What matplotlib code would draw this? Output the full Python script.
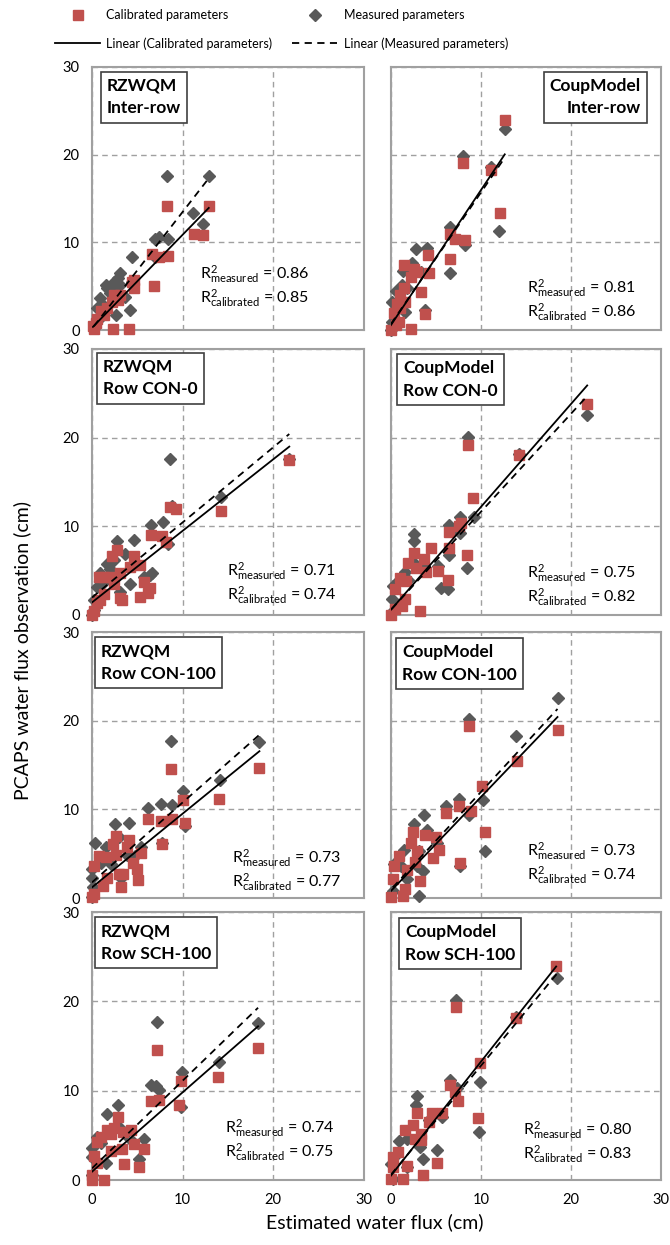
import numpy as np
import matplotlib.pyplot as plt
from matplotlib.lines import Line2D
from matplotlib.transforms import offset_copy

plt.rcParams['font.family'] = ['Lato', 'DejaVu Sans']
plt.rcParams['mathtext.fontset'] = 'custom'
plt.rcParams['mathtext.rm'] = 'Lato'
plt.rcParams['mathtext.it'] = 'Lato:italic'
plt.rcParams['mathtext.bf'] = 'Lato:bold'

RED = '#c0504d'
GREY = '#595959'

rz_inter_meas = [(8.27, 17.6), (12.9, 17.6), (11.2, 13.3), (12.3, 12.1), (7.0, 10.4), (7.35, 10.6),
                 (8.45, 10.4), (7.0, 8.35), (4.4, 8.35), (3.1, 6.45), (2.9, 5.9), (2.4, 5.5),
                 (1.5, 5.1), (1.65, 4.75), (2.0, 4.2), (3.7, 3.8), (0.9, 3.6), (1.1, 3.0),
                 (0.55, 2.5), (2.6, 1.7), (4.2, 2.3), (0.2, 0.2), (0.4, 0.75), (0.75, 1.3),
                 (1.3, 2.1), (2.2, 4.75), (3.1, 5.1), (4.4, 5.5)]
rz_inter_cal = [(12.9, 14.15), (8.27, 14.15), (11.3, 10.9), (12.3, 10.8), (8.45, 8.4), (7.35, 8.35),
                (6.6, 8.7), (6.9, 5.0), (4.4, 5.5), (4.6, 4.75), (3.1, 4.0), (2.9, 3.4),
                (2.2, 3.2), (1.65, 2.5), (1.3, 1.7), (0.55, 1.3), (0.4, 0.75), (0.2, 0.1),
                (2.35, 0.15), (4.1, 0.15), (2.4, 4.0), (4.6, 5.7), (1.0, 2.2), (0.1, 0.5)]

cm_inter_meas = [(12.64, 22.9), (8.03, 19.9), (11.1, 18.6), (12.0, 11.3), (6.6, 11.8), (8.2, 9.7),
                 (4.0, 9.4), (2.8, 9.2), (6.6, 6.45), (2.34, 7.6), (1.34, 6.7), (1.2, 5.1),
                 (0.5, 4.4), (0.1, 3.2), (1.6, 2.1), (3.8, 2.3), (0.1, 0.95), (0.0, 0.0),
                 (0.86, 3.2), (1.8, 4.75), (3.3, 6.6)]
cm_inter_cal = [(12.64, 23.9), (8.03, 19.05), (11.1, 18.2), (12.1, 13.3), (6.6, 10.9), (7.1, 10.4),
                (8.2, 10.25), (4.1, 8.5), (6.6, 8.1), (1.4, 7.4), (2.5, 7.0), (2.9, 6.6),
                (4.2, 6.45), (2.2, 6.1), (1.4, 4.75), (1.0, 4.0), (3.3, 4.3), (0.7, 3.0),
                (1.6, 3.2), (0.3, 1.9), (3.8, 1.8), (0.86, 0.95), (2.2, 0.1), (0.0, 0.0),
                (0.5, 0.6), (1.0, 2.5)]

rz_con0_meas = [(8.6, 17.6), (14.2, 13.3), (8.8, 12.3), (6.5, 10.1), (7.8, 10.45), (8.4, 8.0),
                (4.66, 8.5), (2.8, 8.4), (3.7, 6.9), (1.65, 5.8), (2.4, 6.2), (0.9, 4.7),
                (6.4, 4.5), (5.7, 4.3), (4.2, 3.5), (3.1, 2.6), (0.55, 3.2), (0.2, 1.7),
                (0.2, 0.56), (0.0, 0.0), (1.3, 3.7), (6.6, 4.7), (2.0, 5.2), (21.8, 17.6)]
rz_con0_cal = [(21.8, 17.5), (14.2, 11.7), (8.6, 12.2), (9.25, 11.9), (6.5, 9.0), (7.7, 8.95),
               (8.2, 8.2), (2.8, 7.35), (2.2, 6.6), (4.6, 6.7), (4.2, 5.4), (5.3, 5.6),
               (3.1, 4.7), (0.73, 4.3), (1.3, 4.3), (2.4, 3.5), (5.7, 3.7), (6.4, 3.0),
               (6.2, 2.5), (5.3, 2.0), (3.1, 1.9), (3.3, 1.7), (1.3, 2.4), (0.55, 1.3),
               (0.2, 0.4), (0.0, 0.0), (0.9, 1.7), (2.0, 4.3)]

cm_con0_meas = [(21.8, 22.6), (8.5, 20.1), (14.2, 18.2), (9.25, 11.0), (7.7, 11.1), (6.4, 10.2),
                (7.7, 9.25), (2.5, 9.1), (2.6, 8.3), (6.4, 6.8), (8.4, 5.3), (5.2, 5.5),
                (3.7, 5.5), (1.5, 4.8), (5.6, 3.1), (6.3, 2.9), (0.8, 3.8), (0.26, 3.3),
                (0.07, 1.8), (0.07, 0.3), (1.9, 4.0), (2.6, 5.9)]
cm_con0_cal = [(21.8, 23.8), (8.5, 19.2), (14.2, 18.1), (9.1, 13.2), (7.8, 10.4), (6.4, 9.4),
               (7.6, 10.0), (8.4, 6.8), (2.6, 7.0), (4.4, 7.5), (3.7, 6.3), (6.4, 7.5),
               (1.9, 5.9), (2.8, 5.3), (5.2, 5.0), (6.3, 4.0), (1.0, 4.2), (1.7, 3.8),
               (0.44, 2.9), (1.5, 1.8), (3.2, 0.5), (0.44, 0.67), (0.0, 0.0), (1.2, 1.0),
               (3.9, 4.8)]

rz_con100_meas = [(8.74, 17.7), (18.5, 17.55), (14.1, 13.3), (10.1, 12.1), (7.6, 10.6), (8.85, 10.5),
                  (6.2, 10.2), (10.3, 8.1), (2.5, 8.4), (4.1, 8.5), (3.0, 6.9), (7.75, 6.25),
                  (0.37, 6.25), (1.5, 5.7), (5.4, 5.7), (4.8, 4.75), (1.0, 4.0), (0.0, 3.25),
                  (0.0, 2.3), (3.2, 2.3), (0.1, 1.2), (0.0, 0.15), (2.1, 3.8), (3.9, 4.9)]
rz_con100_cal = [(18.5, 14.7), (8.7, 14.5), (10.1, 11.0), (14.0, 11.2), (10.3, 8.5), (6.2, 8.9),
                 (7.6, 8.7), (8.85, 8.9), (7.75, 6.05), (2.6, 7.0), (2.3, 6.05), (4.1, 6.5),
                 (3.9, 5.7), (5.4, 5.1), (0.8, 4.75), (1.5, 4.6), (2.6, 4.9), (4.5, 4.0),
                 (5.0, 3.25), (0.26, 3.6), (3.0, 2.7), (3.4, 2.7), (1.7, 2.3), (5.1, 2.0),
                 (3.25, 1.2), (1.2, 1.4), (0.0, 0.15), (0.2, 0.45)]

cm_con100_meas = [(18.5, 22.6), (8.65, 20.2), (13.9, 18.3), (10.2, 11.0), (7.6, 11.2), (6.1, 10.4),
                  (8.7, 9.4), (3.7, 9.4), (2.5, 8.4), (4.0, 7.7), (10.4, 5.3), (5.1, 6.2),
                  (1.45, 5.4), (3.1, 5.25), (7.7, 3.6), (3.6, 3.0), (0.36, 3.8), (1.8, 2.1),
                  (0.2, 0.8), (3.1, 0.2), (1.1, 3.6), (2.9, 3.6)]
cm_con100_cal = [(18.5, 18.9), (8.65, 19.4), (14.0, 15.5), (10.1, 12.6), (10.4, 7.4), (7.6, 10.4),
                 (8.9, 9.85), (6.1, 9.6), (2.4, 7.5), (3.8, 7.1), (5.0, 6.9), (2.2, 6.2),
                 (2.9, 5.25), (5.3, 5.45), (4.7, 4.5), (0.9, 4.7), (0.36, 3.6), (7.7, 4.0),
                 (1.8, 3.2), (0.2, 2.1), (3.2, 1.9), (1.6, 0.97), (0.0, 0.15), (1.3, 0.2),
                 (2.7, 4.1)]

rz_sch100_meas = [(7.2, 17.7), (18.35, 17.55), (14.0, 13.2), (9.9, 12.1), (6.5, 10.6), (7.1, 10.5),
                  (7.4, 10.1), (9.8, 8.2), (2.9, 8.4), (1.7, 7.35), (5.7, 4.55), (3.7, 5.2),
                  (0.6, 4.85), (4.5, 4.3), (5.2, 2.3), (0.0, 3.55), (0.0, 2.6), (1.5, 1.9),
                  (0.0, 0.56), (1.0, 4.1), (3.0, 5.9)]
rz_sch100_cal = [(18.35, 14.8), (7.2, 14.6), (13.9, 11.5), (9.85, 11.1), (9.6, 8.4), (6.5, 8.8),
                 (7.4, 9.0), (2.9, 7.0), (2.45, 5.85), (1.7, 5.6), (3.4, 5.4), (4.3, 5.6),
                 (1.0, 4.85), (0.6, 4.3), (4.6, 4.0), (3.3, 3.45), (5.7, 3.45), (2.1, 3.2),
                 (0.26, 2.7), (0.6, 1.9), (3.5, 1.8), (5.2, 1.5), (1.35, 0.0), (0.0, 0.0),
                 (0.0, 0.56), (2.1, 5.2)]

cm_sch100_meas = [(18.4, 22.6), (7.2, 20.1), (13.9, 18.2), (9.85, 11.0), (6.5, 11.2), (7.3, 10.3),
                  (2.85, 9.35), (2.75, 8.4), (9.8, 5.4), (5.65, 7.1), (4.2, 6.7), (1.8, 4.6),
                  (0.9, 4.4), (3.2, 3.7), (5.1, 3.4), (3.6, 2.4), (0.0, 1.8), (1.8, 1.4),
                  (0.2, 0.1), (0.36, 2.6)]
cm_sch100_cal = [(18.35, 23.9), (7.2, 19.4), (13.9, 18.1), (9.85, 13.1), (9.7, 6.9), (6.5, 10.6),
                 (7.1, 9.8), (7.4, 8.8), (2.85, 7.5), (4.6, 7.55), (5.65, 7.55), (4.2, 6.5),
                 (2.4, 6.15), (1.6, 5.6), (3.3, 5.2), (2.7, 4.6), (0.73, 3.1), (5.1, 1.9),
                 (1.8, 1.6), (3.6, 0.57), (0.2, 1.4), (0.0, 0.1), (1.3, 0.1), (0.2, 2.6),
                 (3.3, 4.5)]

panel_titles = ['RZWQM\nInter-row', 'CoupModel\nInter-row',
                'RZWQM\nRow CON-0', 'CoupModel\nRow CON-0',
                'RZWQM\nRow CON-100', 'CoupModel\nRow CON-100',
                'RZWQM\nRow SCH-100', 'CoupModel\nRow SCH-100']
r2_measured = ['0.86', '0.81', '0.71', '0.75', '0.73', '0.73', '0.74', '0.80']
r2_calibrated = ['0.85', '0.86', '0.74', '0.82', '0.77', '0.74', '0.75', '0.83']
# linear trend lines (slope, intercept)
trend_cal = [(1.06, 0.25), (1.54, 0.57), (0.806, 1.42), (1.16, 0.6),
             (0.83, 1.2), (1.06, 0.8), (0.887, 0.93), (1.275, 0.5)]
trend_meas = [(1.33, 0.15), (1.50, 0.7), (0.846, 1.97), (1.105, 0.6),
              (0.90, 1.76), (1.10, 0.97), (0.98, 1.3), (1.22, 0.6)]
ticks = [0, 10, 20, 30]

measured_sets = [rz_inter_meas, cm_inter_meas, rz_con0_meas, cm_con0_meas,
                 rz_con100_meas, cm_con100_meas, rz_sch100_meas, cm_sch100_meas]
calibrated_sets = [rz_inter_cal, cm_inter_cal, rz_con0_cal, cm_con0_cal,
                   rz_con100_cal, cm_con100_cal, rz_sch100_cal, cm_sch100_cal]

# layout (pixels)
W, H = 670, 1245
col_left = [92, 391]
col_width = [271.5, 270]
row_top = [67, 349, 632, 912]
row_bot = [330, 615, 898, 1180]
# title box corner (axes fraction) and R2 text anchor
box_pos = [(0.033, 0.981, 'left'), (0.948, 0.981, 'right'),
           (0.018, 0.985, 'left'), (0.022, 0.98, 'left'),
           (0.011, 0.98, 'left'), (0.019, 0.977, 'left'),
           (0.011, 0.98, 'left'), (0.03, 0.977, 'left')]
r2_pos = [(0.398, 0.167), (0.504, 0.114), (0.497, 0.12), (0.504, 0.113),
          (0.516, 0.105), (0.504, 0.13), (0.49, 0.149), (0.489, 0.142)]

fig = plt.figure(figsize=(W / 100, H / 100), dpi=100)

for i in range(8):
    r, c = divmod(i, 2)
    ax = fig.add_axes([col_left[c] / W, 1 - row_bot[r] / H,
                       col_width[c] / W, (row_bot[r] - row_top[r]) / H])
    ax.set_xlim(0, 30)
    ax.set_ylim(0, 30)
    ax.set_xticks(ticks)
    ax.set_yticks(ticks)
    ax.grid(True, color='#a0a0a0', lw=1.0, ls=(0, (4, 3)))
    ax.set_axisbelow(True)
    for s in ax.spines.values():
        s.set_color('#a0a0a0')
        s.set_linewidth(1.5)
    ax.tick_params(length=0, labelsize=10.5, pad=9,
                   labelleft=(c == 0), labelbottom=(r == 3))

    m = np.array(measured_sets[i])
    k = np.array(calibrated_sets[i])
    ax.plot(m[:, 0], m[:, 1], 'D', ms=6, color=GREY, mec=GREY, clip_on=False, zorder=3)
    ax.plot(k[:, 0], k[:, 1], 's', ms=6.5, color=RED, mec=RED, clip_on=False, zorder=4)

    xs = np.array([k[:, 0].min(), k[:, 0].max()])
    sl, b = trend_cal[i]
    ax.plot(xs, sl * xs + b, color='black', lw=1.3, zorder=5)
    xs = np.array([m[:, 0].min(), m[:, 0].max()])
    sl, b = trend_meas[i]
    ax.plot(xs, sl * xs + b, color='black', lw=1.3, ls=(0, (4, 3)), zorder=5)

    bx, by, ha = box_pos[i]
    dx = 6 if ha == 'left' else -6
    tr = offset_copy(ax.transAxes, fig=fig, x=dx, y=-6, units='dots')
    ax.text(bx, by, panel_titles[i], transform=tr, ha=ha, va='top',
            fontsize=12.5, fontweight='bold', linespacing=1.5, zorder=6,
            bbox=dict(boxstyle='square,pad=0.35', fc='white', ec='#404040', lw=1.2))

    rx, ry = r2_pos[i]
    ax.text(rx, ry + 0.045, r'$\mathrm{R}^{2}_{\mathrm{measured}}$ = ' + r2_measured[i],
            transform=ax.transAxes, ha='left', va='center', fontsize=11.5, zorder=6)
    ax.text(rx, ry - 0.045, r'$\mathrm{R}^{2}_{\mathrm{calibrated}}$ = ' + r2_calibrated[i],
            transform=ax.transAxes, ha='left', va='center', fontsize=11.5, zorder=6)

fig.text(22 / W, 1 - 650 / H, 'PCAPS water flux observation (cm)', rotation=90,
         ha='center', va='center', fontsize=14)
fig.text(375 / W, 1 - 1222 / H, 'Estimated water flux (cm)',
         ha='center', va='center', fontsize=14)

handles = [Line2D([], [], ls='none', marker='s', ms=6.5, color=RED),
           Line2D([], [], color='black', lw=1.3),
           Line2D([], [], ls='none', marker='D', ms=6, color=GREY),
           Line2D([], [], color='black', lw=1.3, ls=(0, (4, 3)))]
labels = ['Calibrated parameters', 'Linear (Calibrated parameters)',
          'Measured parameters', 'Linear (Measured parameters)']
fig.legend(handles, labels, ncol=2, loc='upper left', bbox_to_anchor=(55 / W, 1 - 9 / H),
           frameon=False, fontsize=9, handlelength=3.6, handletextpad=0.5,
           columnspacing=1.6, labelspacing=1.3, borderpad=0, borderaxespad=0, numpoints=1)

fig.savefig('out.png', dpi=100)
